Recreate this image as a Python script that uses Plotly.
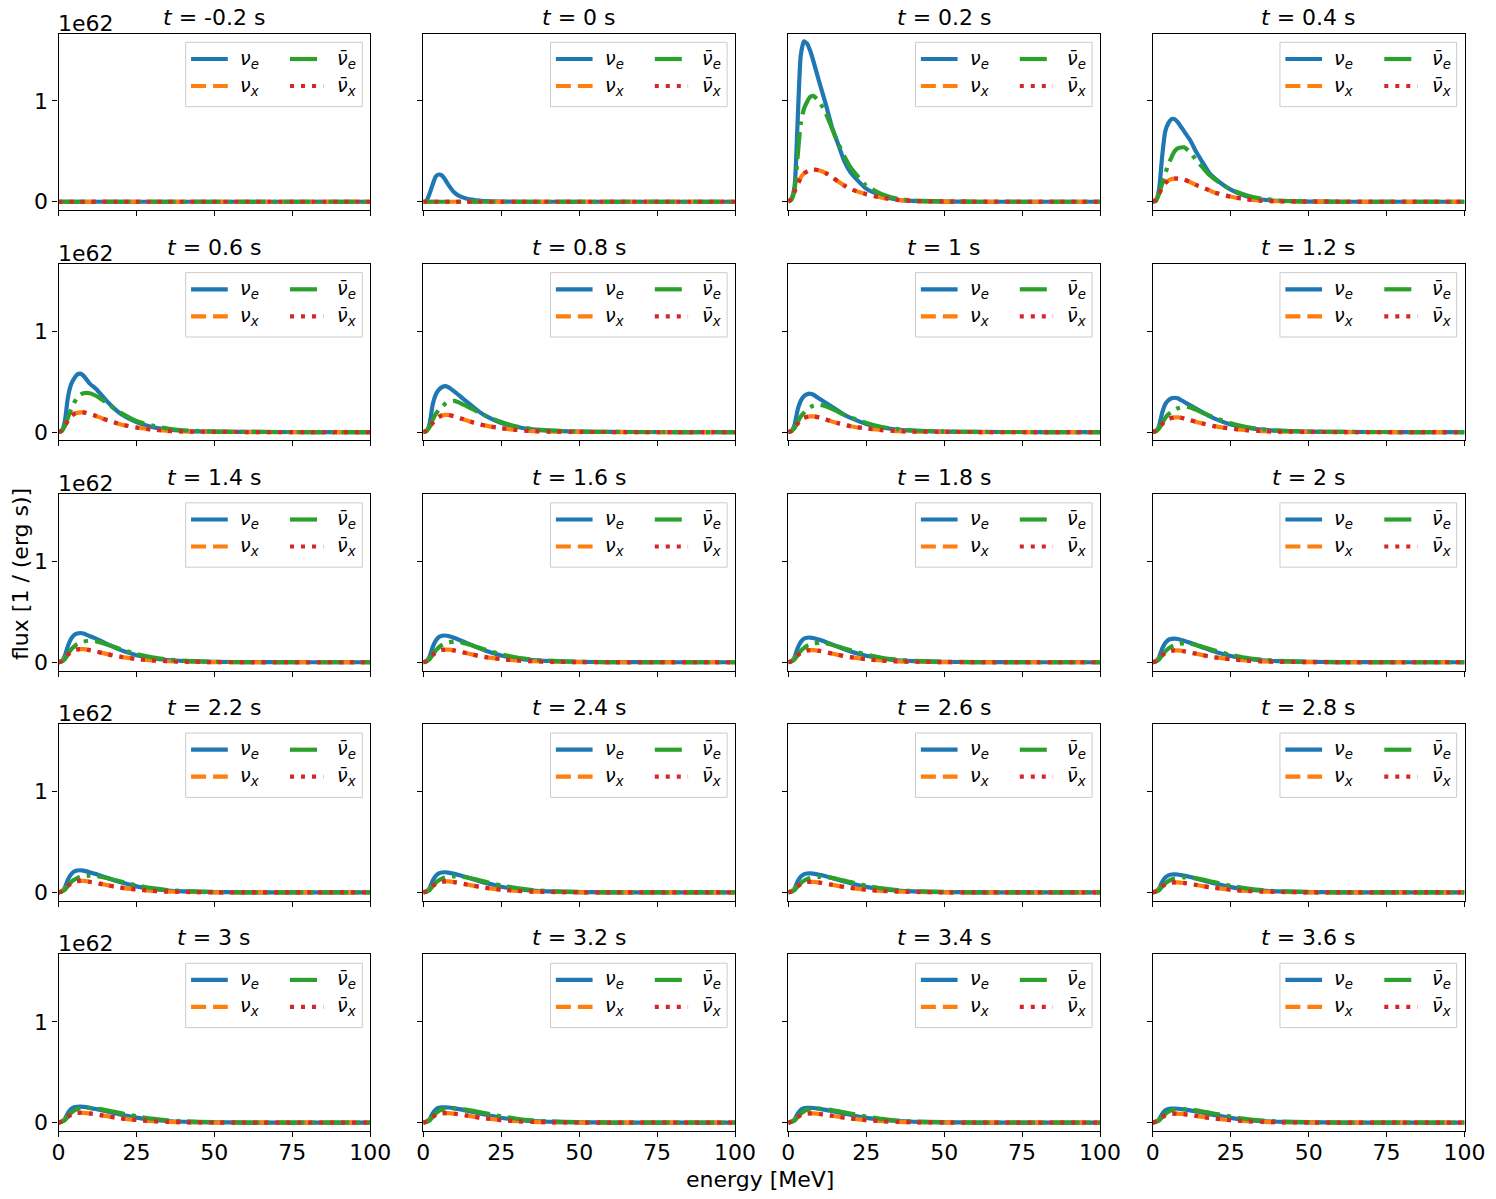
import plotly.graph_objects as go

# ---------------- data (flux in units of 1e62 per erg per s) ----------------
energy = [0, 1, 2, 3, 4, 5, 6, 7, 8, 10, 12, 14, 16, 18, 20, 25, 30, 35, 40, 50, 60, 80, 100]

time_labels = ["-0.2", "0", "0.2", "0.4", "0.6", "0.8", "1", "1.2", "1.4", "1.6",
               "1.8", "2", "2.2", "2.4", "2.6", "2.8", "3", "3.2", "3.4", "3.6"]

flux_exponent_label = "1e62"

nu_e = [
    [0]*23,
    [0, 0.01, 0.08, 0.17, 0.25, 0.27, 0.26, 0.22, 0.17, 0.09, 0.05, 0.03, 0.02, 0.012, 0.006, 0.002, 0, 0, 0, 0, 0, 0, 0],
    [0, 0.03, 0.15, 0.8, 1.45, 1.59, 1.57, 1.50, 1.40, 1.18, 0.97, 0.74, 0.57, 0.40, 0.29, 0.13, 0.06, 0.02, 0.008, 0.002, 0, 0, 0],
    [0, 0.01, 0.12, 0.45, 0.70, 0.78, 0.82, 0.82, 0.79, 0.70, 0.61, 0.49, 0.39, 0.29, 0.23, 0.12, 0.055, 0.022, 0.01, 0.002, 0, 0, 0],
    [0, 0.01, 0.10, 0.34, 0.47, 0.53, 0.57, 0.58, 0.56, 0.48, 0.43, 0.36, 0.29, 0.23, 0.18, 0.10, 0.05, 0.025, 0.012, 0.004, 0.001, 0, 0],
    [0, 0.01, 0.08, 0.27, 0.37, 0.42, 0.445, 0.455, 0.445, 0.40, 0.35, 0.30, 0.25, 0.20, 0.16, 0.09, 0.05, 0.027, 0.014, 0.004, 0.001, 0, 0],
    [0, 0.01, 0.07, 0.22, 0.31, 0.355, 0.375, 0.38, 0.37, 0.33, 0.29, 0.25, 0.21, 0.17, 0.14, 0.08, 0.045, 0.025, 0.013, 0.004, 0.001, 0, 0],
    [0, 0.01, 0.06, 0.19, 0.275, 0.315, 0.335, 0.34, 0.335, 0.30, 0.265, 0.23, 0.195, 0.16, 0.13, 0.075, 0.043, 0.024, 0.013, 0.004, 0.001, 0, 0],
    [0, 0.01, 0.06, 0.16, 0.23, 0.27, 0.285, 0.29, 0.285, 0.26, 0.235, 0.205, 0.175, 0.145, 0.12, 0.07, 0.04, 0.022, 0.012, 0.004, 0.001, 0, 0],
    [0, 0.01, 0.055, 0.15, 0.215, 0.25, 0.262, 0.265, 0.26, 0.24, 0.215, 0.19, 0.163, 0.137, 0.113, 0.067, 0.038, 0.021, 0.012, 0.004, 0.001, 0, 0],
    [0, 0.01, 0.05, 0.14, 0.20, 0.232, 0.243, 0.245, 0.24, 0.222, 0.20, 0.177, 0.152, 0.128, 0.107, 0.064, 0.036, 0.02, 0.011, 0.004, 0.001, 0, 0],
    [0, 0.01, 0.05, 0.135, 0.19, 0.222, 0.232, 0.235, 0.23, 0.213, 0.193, 0.17, 0.147, 0.124, 0.104, 0.062, 0.035, 0.02, 0.011, 0.004, 0.001, 0, 0],
    [0, 0.01, 0.045, 0.125, 0.178, 0.207, 0.217, 0.22, 0.216, 0.20, 0.182, 0.161, 0.14, 0.119, 0.10, 0.06, 0.034, 0.019, 0.011, 0.004, 0.001, 0, 0],
    [0, 0.01, 0.042, 0.115, 0.165, 0.19, 0.198, 0.20, 0.197, 0.184, 0.168, 0.15, 0.131, 0.112, 0.095, 0.057, 0.033, 0.018, 0.01, 0.004, 0.001, 0, 0],
    [0, 0.01, 0.04, 0.11, 0.157, 0.18, 0.188, 0.19, 0.187, 0.175, 0.16, 0.143, 0.125, 0.108, 0.091, 0.055, 0.032, 0.018, 0.01, 0.004, 0.001, 0, 0],
    [0, 0.01, 0.038, 0.104, 0.148, 0.17, 0.178, 0.18, 0.178, 0.167, 0.153, 0.137, 0.12, 0.104, 0.088, 0.053, 0.031, 0.017, 0.01, 0.004, 0.001, 0, 0],
    [0, 0.01, 0.035, 0.095, 0.135, 0.152, 0.157, 0.158, 0.156, 0.147, 0.135, 0.122, 0.108, 0.094, 0.08, 0.05, 0.029, 0.016, 0.009, 0.003, 0.001, 0, 0],
    [0, 0.01, 0.034, 0.092, 0.13, 0.147, 0.151, 0.152, 0.15, 0.142, 0.131, 0.118, 0.105, 0.091, 0.078, 0.049, 0.028, 0.016, 0.009, 0.003, 0.001, 0, 0],
    [0, 0.01, 0.033, 0.089, 0.126, 0.142, 0.146, 0.147, 0.145, 0.137, 0.127, 0.115, 0.102, 0.089, 0.076, 0.048, 0.028, 0.016, 0.009, 0.003, 0.001, 0, 0],
    [0, 0.01, 0.032, 0.085, 0.12, 0.135, 0.139, 0.14, 0.138, 0.131, 0.122, 0.111, 0.099, 0.086, 0.074, 0.047, 0.027, 0.015, 0.009, 0.003, 0.001, 0, 0],
]

nu_e_bar = [
    [0]*23,
    [0]*23,
    [0, 0.02, 0.12, 0.45, 0.78, 0.92, 0.99, 1.04, 1.05, 0.99, 0.88, 0.73, 0.58, 0.45, 0.34, 0.16, 0.075, 0.03, 0.012, 0.003, 0, 0, 0],
    [0, 0.01, 0.08, 0.18, 0.28, 0.37, 0.44, 0.50, 0.53, 0.54, 0.49, 0.41, 0.34, 0.27, 0.22, 0.12, 0.065, 0.03, 0.013, 0.003, 0, 0, 0],
    [0, 0.01, 0.06, 0.14, 0.22, 0.29, 0.34, 0.37, 0.385, 0.385, 0.36, 0.32, 0.28, 0.23, 0.19, 0.11, 0.065, 0.035, 0.018, 0.005, 0.001, 0, 0],
    [0, 0.01, 0.05, 0.12, 0.18, 0.22, 0.25, 0.28, 0.30, 0.31, 0.285, 0.255, 0.225, 0.19, 0.16, 0.10, 0.055, 0.03, 0.017, 0.005, 0.001, 0, 0],
    [0, 0.01, 0.04, 0.10, 0.155, 0.19, 0.22, 0.245, 0.26, 0.27, 0.255, 0.23, 0.20, 0.17, 0.145, 0.09, 0.05, 0.028, 0.015, 0.005, 0.001, 0, 0],
    [0, 0.008, 0.035, 0.09, 0.14, 0.175, 0.20, 0.22, 0.235, 0.25, 0.245, 0.22, 0.19, 0.165, 0.14, 0.088, 0.05, 0.028, 0.015, 0.005, 0.001, 0, 0],
    [0, 0.008, 0.03, 0.08, 0.125, 0.155, 0.18, 0.195, 0.205, 0.215, 0.21, 0.19, 0.17, 0.15, 0.128, 0.082, 0.048, 0.027, 0.015, 0.005, 0.001, 0, 0],
    [0, 0.008, 0.03, 0.075, 0.118, 0.148, 0.17, 0.185, 0.195, 0.205, 0.20, 0.182, 0.163, 0.143, 0.123, 0.079, 0.047, 0.026, 0.015, 0.005, 0.001, 0, 0],
    [0, 0.008, 0.028, 0.072, 0.112, 0.14, 0.162, 0.177, 0.186, 0.195, 0.19, 0.174, 0.156, 0.137, 0.118, 0.076, 0.045, 0.025, 0.014, 0.005, 0.001, 0, 0],
    [0, 0.008, 0.027, 0.07, 0.108, 0.135, 0.156, 0.17, 0.18, 0.19, 0.185, 0.17, 0.152, 0.134, 0.115, 0.074, 0.044, 0.025, 0.014, 0.005, 0.001, 0, 0],
    [0, 0.008, 0.025, 0.065, 0.10, 0.125, 0.143, 0.155, 0.162, 0.166, 0.163, 0.153, 0.139, 0.124, 0.108, 0.071, 0.043, 0.024, 0.014, 0.005, 0.001, 0, 0],
    [0, 0.008, 0.024, 0.062, 0.096, 0.12, 0.137, 0.148, 0.155, 0.16, 0.157, 0.148, 0.135, 0.12, 0.105, 0.069, 0.042, 0.024, 0.013, 0.005, 0.001, 0, 0],
    [0, 0.008, 0.023, 0.06, 0.093, 0.116, 0.132, 0.143, 0.15, 0.155, 0.152, 0.144, 0.131, 0.117, 0.102, 0.067, 0.041, 0.023, 0.013, 0.005, 0.001, 0, 0],
    [0, 0.008, 0.022, 0.058, 0.09, 0.112, 0.128, 0.139, 0.145, 0.15, 0.148, 0.14, 0.128, 0.114, 0.10, 0.066, 0.04, 0.023, 0.013, 0.005, 0.001, 0, 0],
    [0, 0.008, 0.022, 0.06, 0.095, 0.12, 0.135, 0.143, 0.146, 0.146, 0.141, 0.132, 0.12, 0.107, 0.094, 0.063, 0.039, 0.022, 0.013, 0.005, 0.001, 0, 0],
    [0, 0.008, 0.021, 0.058, 0.092, 0.116, 0.131, 0.139, 0.142, 0.142, 0.137, 0.128, 0.117, 0.104, 0.092, 0.062, 0.038, 0.022, 0.013, 0.005, 0.001, 0, 0],
    [0, 0.008, 0.02, 0.056, 0.089, 0.112, 0.127, 0.135, 0.138, 0.138, 0.133, 0.125, 0.114, 0.102, 0.09, 0.061, 0.037, 0.021, 0.012, 0.005, 0.001, 0, 0],
    [0, 0.008, 0.02, 0.054, 0.086, 0.108, 0.122, 0.13, 0.133, 0.133, 0.129, 0.121, 0.111, 0.099, 0.088, 0.06, 0.036, 0.021, 0.012, 0.005, 0.001, 0, 0],
]

nu_x = [
    [0]*23,
    [0]*23,
    [0, 0.03, 0.10, 0.17, 0.24, 0.28, 0.30, 0.315, 0.32, 0.31, 0.285, 0.245, 0.20, 0.16, 0.125, 0.075, 0.04, 0.018, 0.008, 0.002, 0, 0, 0],
    [0, 0.02, 0.08, 0.14, 0.185, 0.21, 0.225, 0.23, 0.23, 0.22, 0.195, 0.165, 0.14, 0.115, 0.09, 0.05, 0.025, 0.01, 0.005, 0.001, 0, 0, 0],
    [0, 0.015, 0.06, 0.11, 0.155, 0.18, 0.19, 0.195, 0.195, 0.18, 0.16, 0.135, 0.115, 0.095, 0.075, 0.045, 0.025, 0.012, 0.006, 0.002, 0, 0, 0],
    [0, 0.012, 0.05, 0.09, 0.13, 0.15, 0.165, 0.17, 0.17, 0.155, 0.135, 0.115, 0.095, 0.077, 0.063, 0.038, 0.02, 0.01, 0.005, 0.001, 0, 0, 0],
    [0, 0.01, 0.045, 0.085, 0.12, 0.14, 0.15, 0.155, 0.155, 0.145, 0.125, 0.105, 0.088, 0.072, 0.058, 0.035, 0.019, 0.01, 0.005, 0.001, 0, 0, 0],
    [0, 0.01, 0.042, 0.08, 0.11, 0.13, 0.14, 0.145, 0.145, 0.135, 0.118, 0.10, 0.084, 0.069, 0.056, 0.034, 0.019, 0.01, 0.005, 0.001, 0, 0, 0],
    [0, 0.01, 0.04, 0.075, 0.10, 0.118, 0.127, 0.13, 0.13, 0.12, 0.107, 0.092, 0.078, 0.064, 0.053, 0.032, 0.018, 0.01, 0.005, 0.001, 0, 0, 0],
    [0, 0.01, 0.038, 0.072, 0.097, 0.113, 0.122, 0.125, 0.125, 0.116, 0.103, 0.089, 0.075, 0.062, 0.051, 0.031, 0.018, 0.01, 0.005, 0.001, 0, 0, 0],
    [0, 0.01, 0.037, 0.07, 0.094, 0.109, 0.117, 0.12, 0.12, 0.112, 0.10, 0.086, 0.073, 0.06, 0.05, 0.03, 0.017, 0.009, 0.005, 0.001, 0, 0, 0],
    [0, 0.01, 0.036, 0.068, 0.092, 0.107, 0.115, 0.118, 0.117, 0.109, 0.097, 0.084, 0.071, 0.059, 0.049, 0.03, 0.017, 0.009, 0.005, 0.001, 0, 0, 0],
    [0, 0.01, 0.035, 0.066, 0.089, 0.104, 0.112, 0.115, 0.114, 0.106, 0.094, 0.082, 0.07, 0.058, 0.048, 0.029, 0.016, 0.009, 0.005, 0.001, 0, 0, 0],
    [0, 0.01, 0.034, 0.064, 0.086, 0.10, 0.107, 0.11, 0.109, 0.102, 0.091, 0.079, 0.067, 0.056, 0.046, 0.028, 0.016, 0.009, 0.005, 0.001, 0, 0, 0],
    [0, 0.01, 0.033, 0.062, 0.083, 0.096, 0.103, 0.105, 0.104, 0.098, 0.088, 0.076, 0.065, 0.054, 0.045, 0.027, 0.015, 0.009, 0.005, 0.001, 0, 0, 0],
    [0, 0.01, 0.032, 0.06, 0.08, 0.092, 0.099, 0.10, 0.10, 0.094, 0.085, 0.074, 0.063, 0.053, 0.044, 0.027, 0.015, 0.009, 0.005, 0.001, 0, 0, 0],
    [0, 0.01, 0.03, 0.058, 0.078, 0.09, 0.096, 0.098, 0.097, 0.091, 0.082, 0.072, 0.062, 0.052, 0.043, 0.026, 0.015, 0.008, 0.004, 0.001, 0, 0, 0],
    [0, 0.01, 0.029, 0.056, 0.076, 0.087, 0.093, 0.095, 0.094, 0.088, 0.08, 0.07, 0.06, 0.05, 0.042, 0.025, 0.014, 0.008, 0.004, 0.001, 0, 0, 0],
    [0, 0.01, 0.028, 0.055, 0.074, 0.085, 0.09, 0.092, 0.091, 0.086, 0.078, 0.068, 0.058, 0.049, 0.041, 0.025, 0.014, 0.008, 0.004, 0.001, 0, 0, 0],
    [0, 0.01, 0.027, 0.053, 0.072, 0.083, 0.088, 0.09, 0.089, 0.084, 0.076, 0.067, 0.057, 0.048, 0.04, 0.024, 0.014, 0.008, 0.004, 0.001, 0, 0, 0],
]

# anti-nu_x spectra coincide with nu_x in every panel
nu_x_bar = [list(row) for row in nu_x]

flavor_labels = ["<i>ν</i><sub><i>e</i></sub>", "<i>ν</i><sub><i>x</i></sub>",
                 "<i>ν̄</i><sub><i>e</i></sub>", "<i>ν̄</i><sub><i>x</i></sub>"]

# ---------------- styling ----------------
W, H = 1496, 1199
FONT = "DejaVu Sans"
col_left = [58.5, 423.3, 788.3, 1152.8]
row_top = [33.5, 263.8, 494.0, 724.2, 954.4]
aw, ah = 311.7, 176.5

styles = [
    dict(color="#1f77b4", dash="solid"),
    dict(color="#ff7f0e", dash="15px,7px"),
    dict(color="#2ca02c", dash="27px,7px,4px,7px"),
    dict(color="#d62728", dash="4px,7px"),
]
LW = 4.2

fig = go.Figure()
layout = dict(
    template="none",
    width=W, height=H, margin=dict(l=0, r=0, t=0, b=0, autoexpand=False),
    paper_bgcolor="white", plot_bgcolor="white",
    showlegend=False, font=dict(family=FONT, color="black", size=22),
)
shapes, annotations = [], []

series = [nu_e, nu_x, nu_e_bar, nu_x_bar]

for i, lab in enumerate(time_labels):
    r, c = divmod(i, 4)
    n = i + 1
    xs = "" if n == 1 else str(n)
    xa, ya = "x" + xs, "y" + xs
    x0 = col_left[c] / W
    x1 = (col_left[c] + aw) / W
    y1 = 1 - row_top[r] / H
    y0 = 1 - (row_top[r] + ah) / H

    for k, data in enumerate(series):
        fig.add_trace(go.Scatter(
            x=energy, y=data[i], mode="lines", xaxis=xa, yaxis=ya,
            line=dict(color=styles[k]["color"], dash=styles[k]["dash"], width=LW,
                      shape="spline", smoothing=0.6),
            hoverinfo="skip", showlegend=False,
        ))

    layout["xaxis" + xs] = dict(
        domain=[x0, x1], anchor=ya, range=[0, 100], tickvals=[0, 25, 50, 75, 100],
        ticks="outside", ticklen=5, tickwidth=1.1, tickcolor="black",
        showline=True, linecolor="black", linewidth=1.1, mirror=True,
        showgrid=False, zeroline=False, showticklabels=(r == 4), automargin=False,
        ticklabelstandoff=-3,
        tickfont=dict(size=22, family=FONT, color="black"),
    )
    layout["yaxis" + xs] = dict(
        domain=[y0, y1], anchor=xa, range=[-0.082, 1.669], tickvals=[0, 1],
        ticktext=["0", "1"],
        ticks="outside", ticklen=5, tickwidth=1.1, tickcolor="black",
        showline=True, linecolor="black", linewidth=1.1, mirror=True,
        showgrid=False, zeroline=False, showticklabels=(c == 0), automargin=False,
        tickfont=dict(size=22, family=FONT, color="black"),
    )

    xd, yd = xa + " domain", ya + " domain"
    # title
    annotations.append(dict(
        text=f"<i>t</i> = {lab} s", xref=xd, yref=yd, x=0.5, y=1,
        xanchor="center", yanchor="bottom", yshift=2, showarrow=False,
        font=dict(size=22, family=FONT, color="black"),
    ))
    if c == 0:
        annotations.append(dict(
            text=flux_exponent_label, xref=xd, yref=yd, x=0, y=1,
            xanchor="left", yanchor="bottom", yshift=-4, xshift=-3, showarrow=False,
            font=dict(size=22, family=FONT, color="black"),
        ))
    # legend box
    shapes.append(dict(
        type="rect", xref=xd, yref=yd, x0=0.408, x1=0.9747, y0=0.5853, y1=0.950,
        line=dict(color="#cccccc", width=1), fillcolor="rgba(255,255,255,0.8)",
        layer="above",
    ))
    handle_pos = [(0.4253, 0.5431, 0.8555), (0.4253, 0.5431, 0.7025),
                  (0.7427, 0.8494, 0.8555), (0.7427, 0.8494, 0.7025)]
    text_x = [0.5846, 0.5846, 0.8976, 0.8976]
    for k in range(4):
        hx0, hx1, hy = handle_pos[k]
        shapes.append(dict(
            type="line", xref=xd, yref=yd, x0=hx0, x1=hx1, y0=hy, y1=hy,
            line=dict(color=styles[k]["color"], dash=styles[k]["dash"], width=LW),
            layer="above",
        ))
        annotations.append(dict(
            text=flavor_labels[k], xref=xd, yref=yd, x=text_x[k], y=hy,
            xanchor="left", yanchor="middle", xshift=-3, showarrow=False,
            font=dict(size=19, family=FONT, color="black"),
        ))

annotations.append(dict(
    text="energy [MeV]", xref="paper", yref="paper", x=759.5 / W, y=1 - 1179 / H,
    xanchor="center", yanchor="middle", showarrow=False,
    font=dict(size=22, family=FONT, color="black"),
))
annotations.append(dict(
    text="flux [1 / (erg s)]", xref="paper", yref="paper", x=20 / W, y=1 - 574 / H,
    xanchor="center", yanchor="middle", textangle=-90, showarrow=False,
    font=dict(size=22, family=FONT, color="black"),
))

layout["shapes"] = shapes
layout["annotations"] = annotations
fig.update_layout(**layout)
fig.write_html("out.html")
